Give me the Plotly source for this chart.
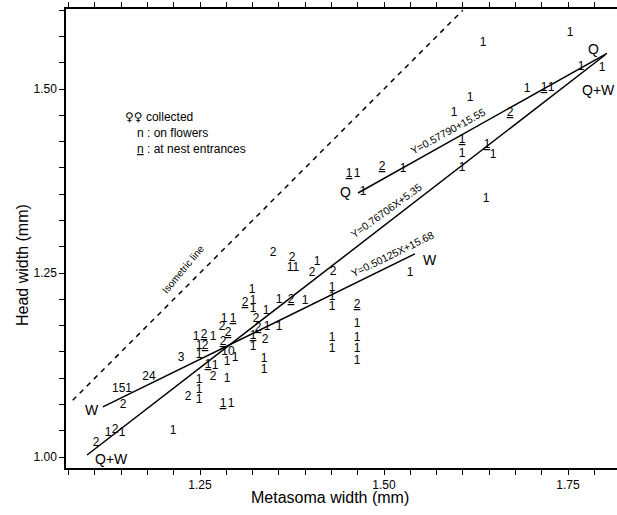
import plotly.graph_objects as go

# ---- data (metasoma width, head width in mm; label = number of females, nest = collected at nest entrance)
mw = [1.6345, 1.7527, 1.7677, 1.7962, 1.6943, 1.7174, 1.7269, 1.6168, 1.5951, 1.6712,
      1.6060, 1.6060, 1.6399, 1.6481, 1.4524, 1.4633, 1.4973, 1.5258, 1.4715, 1.6060,
      1.6386, 1.3492, 1.3750, 1.3764, 1.4090, 1.4022, 1.4307, 1.5353, 1.4293, 1.4293,
      1.4293, 1.4633, 1.4633, 1.4293, 1.4293, 1.4633, 1.4633, 1.4633, 1.3207, 1.3111,
      1.3220, 1.3220, 1.3397, 1.3573, 1.3736, 1.3927, 1.2826, 1.2948, 1.2799, 1.2880,
      1.2446, 1.2554, 1.2677, 1.2486, 1.2568, 1.2813, 1.2486, 1.2880, 1.2867, 1.2976,
      1.2242, 1.2609, 1.2704, 1.2677, 1.2867, 1.2486, 1.2486, 1.2486, 1.2337, 1.2813,
      1.2921, 1.3261, 1.3288, 1.3410, 1.3573, 1.3220, 1.3383, 1.3220, 1.3370, 1.3370,
      1.1440, 1.1807, 1.1454, 1.2133, 1.1250, 1.1345, 1.1440, 1.1087]
hw = [1.5625, 1.5761, 1.5299, 1.5285, 1.5000, 1.5014, 1.5014, 1.4878, 1.4674, 1.4674,
      1.4307, 1.4117, 1.4239, 1.4103, 1.3845, 1.3845, 1.3940, 1.3913, 1.3601, 1.3927,
      1.3505, 1.2772, 1.2704, 1.2568, 1.2649, 1.2500, 1.2514, 1.2500, 1.2296, 1.2174,
      1.2038, 1.2065, 1.1807, 1.1617, 1.1467, 1.1617, 1.1467, 1.1304, 1.2269, 1.2092,
      1.2120, 1.2011, 1.1984, 1.2133, 1.2133, 1.2120, 1.1875, 1.1875, 1.1766, 1.1685,
      1.1630, 1.1658, 1.1630, 1.1508, 1.1508, 1.1563, 1.1386, 1.1427, 1.1291, 1.1345,
      1.1345, 1.1250, 1.1236, 1.1087, 1.1060, 1.1046, 1.0910, 1.0774, 1.0815, 1.0720,
      1.0720, 1.1875, 1.1753, 1.1766, 1.1766, 1.1644, 1.1590, 1.1495, 1.1332, 1.1182,
      1.0924, 1.1087, 1.0707, 1.0353, 1.0326, 1.0367, 1.0326, 1.0190]
counts = ["1", "1", "1", "1", "1", "1", "1", "1", "1", "2",
          "1", "1", "1", "1", "1", "1", "2", "1", "1", "1",
          "1", "2", "2", "11", "1", "2", "2", "1", "1", "1",
          "1", "2", "1", "1", "1", "1", "1", "1", "1", "2",
          "1", "1", "1", "1", "2", "1", "1", "1", "2", "2",
          "1", "2", "1", "1", "2", "2", "1", "10", "1", "1",
          "3", "1", "1", "2", "1", "1", "1", "1", "2", "1",
          "1", "2", "2", "1", "1", "1", "2", "1", "1", "1",
          "151", "24", "2", "1", "1", "2", "1", "2"]
nest = [0, 0, 0, 0, 0, 1, 0, 0, 0, 1,
        1, 0, 1, 0, 1, 0, 1, 0, 0, 0,
        0, 0, 0, 0, 0, 0, 0, 0, 0, 0,
        0, 1, 0, 0, 0, 0, 0, 0, 0, 1,
        0, 0, 0, 0, 1, 0, 0, 1, 0, 1,
        0, 1, 0, 0, 1, 1, 0, 0, 0, 0,
        0, 1, 0, 0, 0, 0, 0, 0, 0, 1,
        0, 0, 1, 0, 0, 1, 0, 0, 0, 0,
        0, 0, 0, 0, 0, 0, 0, 0]

# regression lines (end points, mm)
line_w_x = [1.118, 1.542]
line_w_y = [1.068, 1.276]
line_qw_x = [1.0965, 1.8003]
line_qw_y = [1.0027, 1.5462]
line_q_x = [1.4647, 1.8030]
line_q_y = [1.3587, 1.5485]
iso_x = [1.077, 1.607]
iso_y = [1.077, 1.607]

x_major = [1.25, 1.50, 1.75]
y_major = [1.00, 1.25, 1.50]
step = 0.25 / 7

FONT = "Liberation Sans, Arial, sans-serif"

fig = go.Figure()
for xs, ys, dash in [(line_w_x, line_w_y, "solid"), (line_qw_x, line_qw_y, "solid"),
                     (line_q_x, line_q_y, "solid"), (iso_x, iso_y, "5px,5px")]:
    fig.add_trace(go.Scatter(x=xs, y=ys, mode="lines",
                             line=dict(color="black", width=1.5, dash=dash),
                             hoverinfo="skip", showlegend=False))

texts = [f"<u>{c}</u>" if n else c for c, n in zip(counts, nest)]
fig.add_trace(go.Scatter(x=mw, y=hw, mode="text", text=texts,
                         textposition="middle center",
                         textfont=dict(family=FONT, size=12, color="black"),
                         showlegend=False, cliponaxis=False))

xt = [round(1.25 + k * step, 5) for k in range(-5, 16)]
yt = [round(1.00 + k * step, 5) for k in range(0, 18)]
def lab(v, majors):
    for m in majors:
        if abs(v - m) < 1e-4:
            return f"{m:.2f}"
    return ""

ann = []
def A(x, y, t, size=12, angle=0, xanchor="center"):
    ann.append(dict(x=x, y=y, text=t, showarrow=False, textangle=angle,
                    xanchor=xanchor, yanchor="middle", xref="x", yref="y",
                    font=dict(family=FONT, size=size, color="black")))

A(1.1033, 1.0639, "W", 14)
A(1.1304, 0.9973, "Q+W", 14)
A(1.4470, 1.3601, "Q", 14)
A(1.7840, 1.5543, "Q", 14)
A(1.7921, 1.4986, "Q+W", 14)
A(1.5625, 1.2677, "W", 14)
A(1.5870, 1.4430, "Y=0.57790+15.55", 10.5, -29)
A(1.5040, 1.3350, "Y=0.76706X+5.35", 10.5, -36)
A(1.5109, 1.2765, "Y=0.50125X+15.68", 10.5, -26)
A(1.2269, 1.2541, "Isometric line", 10, -50)
A(1.1454, 1.4620, '<span style="font-family:DejaVu Sans">♀♀</span> collected', 12, 0, "left")
A(1.1617, 1.4402, "n : on flowers", 12, 0, "left")
A(1.1617, 1.4185, "<u>n</u> : at nest entrances", 12, 0, "left")
ann.append(dict(x=(330 - 66) / 551, y=-29 / 459, xref="paper", yref="paper",
                text="Metasoma width (mm)", showarrow=False,
                font=dict(family=FONT, size=16, color="black"), yanchor="middle"))
ann.append(dict(x=-44 / 551, y=(468 - 265) / 459, xref="paper", yref="paper",
                text="Head width (mm)", showarrow=False, textangle=-90,
                font=dict(family=FONT, size=16, color="black"), xanchor="center"))

fig.update_layout(
    width=617, height=515,
    margin=dict(l=66, r=0, t=9, b=47),
    paper_bgcolor="white", plot_bgcolor="white",
    annotations=ann,
    xaxis=dict(range=[1.06793, 1.81657], tickmode="array", tickvals=xt,
               ticktext=[lab(v, x_major) for v in xt],
               ticks="outside", ticklen=5, tickwidth=1.3, tickcolor="black",
               showline=True, linecolor="black", linewidth=1.5, mirror="ticks",
               showgrid=False, zeroline=False,
               tickfont=dict(family=FONT, size=12, color="black")),
    yaxis=dict(range=[0.98505, 1.6087], tickmode="array", tickvals=yt,
               ticktext=[lab(v, y_major) for v in yt],
               ticks="outside", ticklen=5, tickwidth=1.3, tickcolor="black",
               showline=True, linecolor="black", linewidth=1.5,
               showgrid=False, zeroline=False,
               tickfont=dict(family=FONT, size=12, color="black")),
)
fig.write_html("out.html", config={"displayModeBar": False},
               post_script="document.body.style.margin='0';document.body.style.padding='0';")
